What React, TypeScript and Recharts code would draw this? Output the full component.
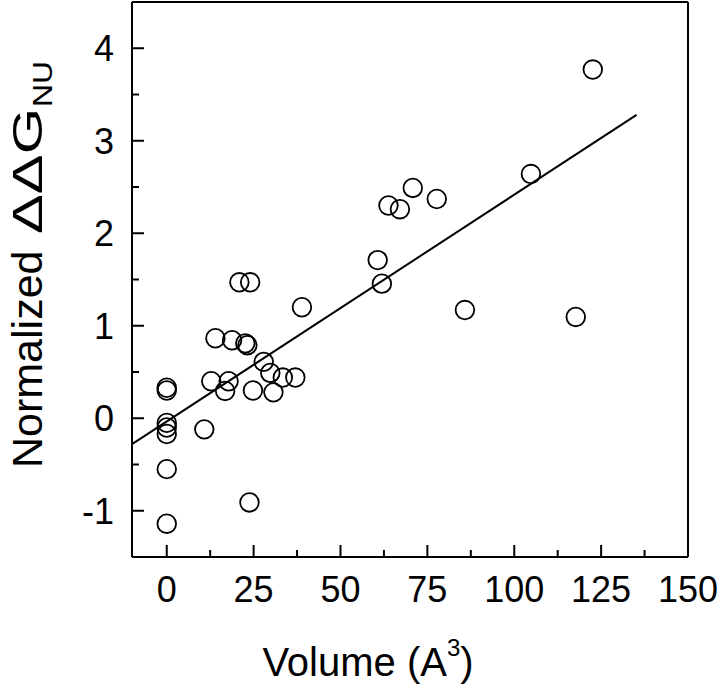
import React from "react";
import {
  ScatterChart,
  Scatter,
  XAxis,
  YAxis,
  ReferenceLine,
} from "recharts";

const volume = [
  0, 0, 0, 0, 0, 0, 0, 10.8, 12.8, 14.0, 16.8, 17.8, 18.8, 20.9, 22.6, 23.2,
  23.8, 24.0, 24.8, 27.9, 29.8, 30.7, 33.4, 37.0, 38.9, 60.7, 61.9, 63.8, 67.1,
  70.8, 77.7, 85.8, 104.8, 117.7, 122.6,
];
const ddG = [
  0.33, 0.3, -0.05, -0.1, -0.17, -0.55, -1.14, -0.12, 0.4, 0.865, 0.295, 0.4,
  0.843, 1.47, 0.81, 0.79, -0.91, 1.47, 0.3, 0.61, 0.49, 0.28, 0.44, 0.44, 1.2,
  1.71, 1.455, 2.3, 2.26, 2.49, 2.37, 1.17, 2.64, 1.095, 3.77,
];
const fitX = [-10, 135.2];
const fitY = [-0.28, 3.28];

const xMajorTicks = [0, 25, 50, 75, 100, 125, 150];
const xAllTicks = [0, 12.5, 25, 37.5, 50, 62.5, 75, 87.5, 100, 112.5, 125, 137.5, 150];
const yMajorTicks = [-1, 0, 1, 2, 3, 4];
const yAllTicks = [-1.5, -1, -0.5, 0, 0.5, 1, 1.5, 2, 2.5, 3, 3.5, 4, 4.5];

const X_DOMAIN = [-10, 150];
const Y_DOMAIN = [-1.5, 4.5];

const points = volume.map((v, i) => ({ x: v, y: ddG[i] }));

const FONT = '"Liberation Sans", Arial, Helvetica, sans-serif';

const Marker = (props: any) => {
  const { cx, cy } = props;
  if (cx == null || cy == null) return null;
  return (
    <circle cx={cx} cy={cy} r={9.3} fill="none" stroke="#000" strokeWidth={1.8} />
  );
};

const XTick = (props: any) => {
  const { x, y, payload } = props;
  const v = payload.value;
  const major = xMajorTicks.includes(v);
  const edge = v === X_DOMAIN[0] || v === X_DOMAIN[1];
  return (
    <g>
      {!edge && (
        <line x1={x} x2={x} y1={y} y2={y - (major ? 12 : 7)} stroke="#000" strokeWidth={2} />
      )}
      {major && (
        <text
          x={x}
          y={y + 45}
          textAnchor="middle"
          fontFamily={FONT}
          fontSize={36}
          fill="#000"
        >
          {v}
        </text>
      )}
    </g>
  );
};

const YTick = (props: any) => {
  const { x, y, payload } = props;
  const v = payload.value;
  const major = yMajorTicks.includes(v);
  const edge = v === Y_DOMAIN[0] || v === Y_DOMAIN[1];
  return (
    <g>
      {!edge && (
        <line x1={x} x2={x + (major ? 12 : 7)} y1={y} y2={y} stroke="#000" strokeWidth={2} />
      )}
      {major && (
        <text
          x={x - 18}
          y={y + 13}
          textAnchor="end"
          fontFamily={FONT}
          fontSize={36}
          fill="#000"
        >
          {v}
        </text>
      )}
    </g>
  );
};

const YTitle = () => {
  return (
    <g transform="translate(42, 468) rotate(-90)" fontFamily={FONT} fill="#000">
      <text x={0} y={0} fontSize={43}>
        Normalized
      </text>
      <text x={234} y={0} fontSize={42} textLength={126} lengthAdjust="spacingAndGlyphs">
        ΔΔG
      </text>
      <text x={361} y={10} fontSize={28} textLength={46} lengthAdjust="spacingAndGlyphs">
        NU
      </text>
    </g>
  );
};

const XTitle = () => {
  return (
    <text
      x={368}
      y={676}
      textAnchor="middle"
      fontFamily={FONT}
      fontSize={40}
      fill="#000"
    >
      Volume (A
      <tspan fontSize={24} dy={-20}>
        3
      </tspan>
      <tspan dy={20}>)</tspan>
    </text>
  );
};

export default function App() {
  return (
    <div style={{ position: "absolute", left: 0, top: 0, background: "#fff" }}>
      <ScatterChart
        width={720}
        height={687}
        margin={{ top: 2, right: 32, bottom: 129, left: 131 }}
      >
        <XAxis
          type="number"
          dataKey="x"
          domain={X_DOMAIN}
          allowDataOverflow
          ticks={xAllTicks}
          height={1}
          tickSize={0}
          tickMargin={0}
          axisLine={{ stroke: "#000", strokeWidth: 2 }}
          tickLine={false}
          tick={<XTick />}
          interval={0}
        />
        <YAxis
          type="number"
          dataKey="y"
          domain={Y_DOMAIN}
          allowDataOverflow
          ticks={yAllTicks}
          width={1}
          tickSize={0}
          tickMargin={0}
          axisLine={{ stroke: "#000", strokeWidth: 2 }}
          tickLine={false}
          tick={<YTick />}
          interval={0}
        />
        <ReferenceLine y={Y_DOMAIN[1]} stroke="#000" strokeWidth={2} ifOverflow="visible" />
        <ReferenceLine x={X_DOMAIN[1]} stroke="#000" strokeWidth={2} ifOverflow="visible" />
        <ReferenceLine
          segment={[
            { x: fitX[0], y: fitY[0] },
            { x: fitX[1], y: fitY[1] },
          ]}
          stroke="#000"
          strokeWidth={2}
          ifOverflow="visible"
        />
        <Scatter
          data={points}
          shape={<Marker />}
          isAnimationActive={false}
        />
        <YTitle />
        <XTitle />
      </ScatterChart>
    </div>
  );
}
